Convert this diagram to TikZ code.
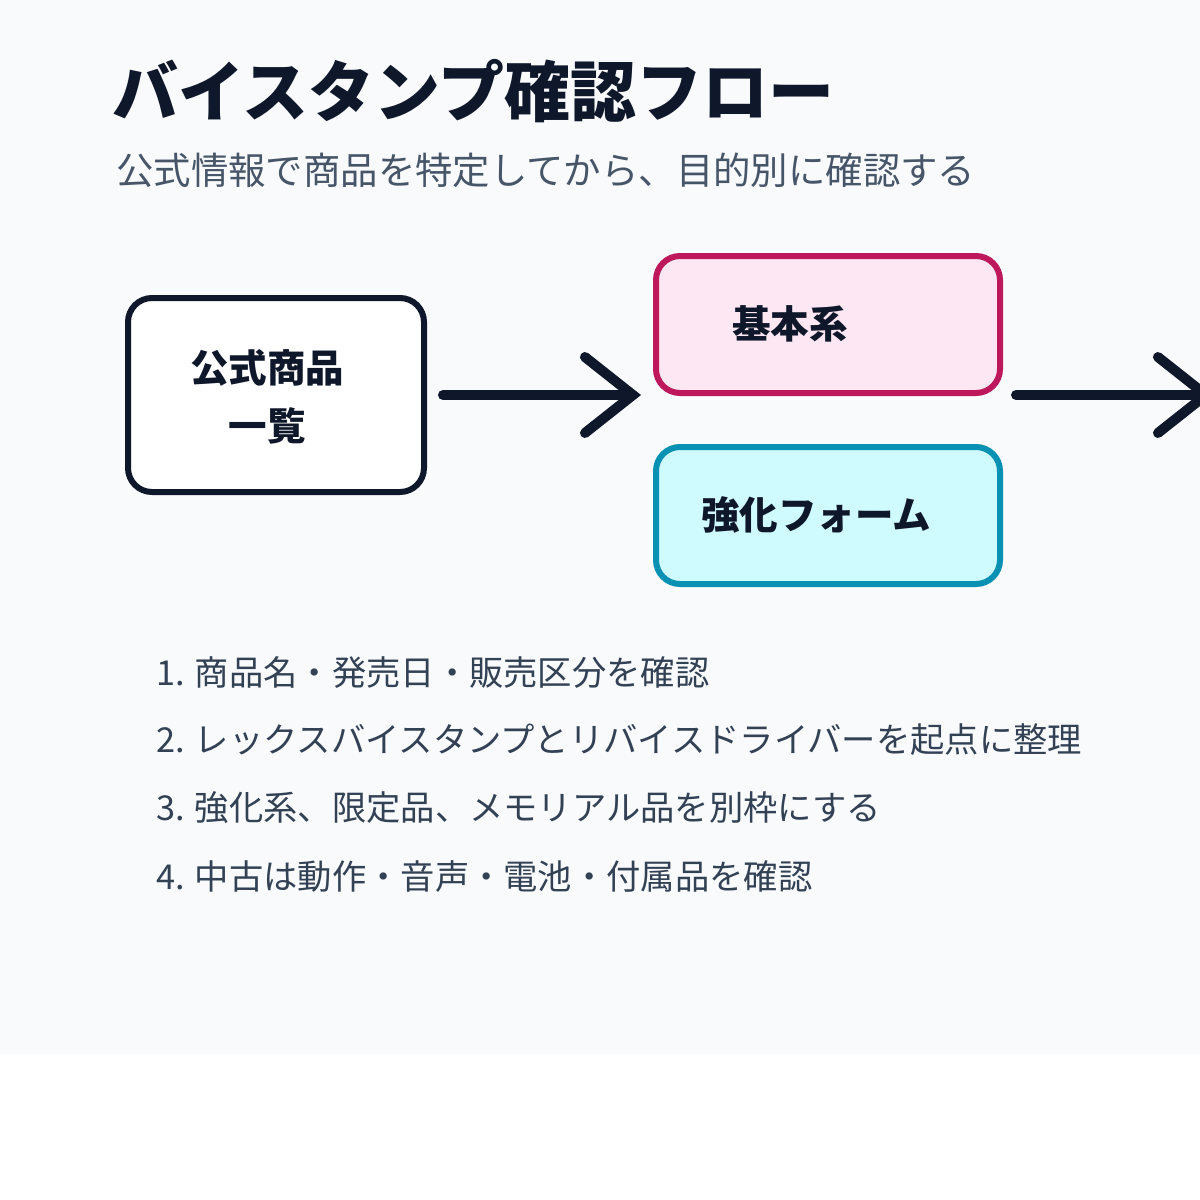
\documentclass[tikz,border=0pt]{standalone}
\usepackage{fontspec}
\setmainfont{Noto Sans CJK JP}
\usetikzlibrary{arrows.meta}
\definecolor{ink}{HTML}{0F172A}
\definecolor{slate}{HTML}{334155}
\definecolor{subgray}{HTML}{475569}
\definecolor{pagebg}{HTML}{F8FAFC}
\definecolor{pinkfill}{HTML}{FCE7F3}
\definecolor{pinkline}{HTML}{BE185D}
\definecolor{cyanfill}{HTML}{CFFAFE}
\definecolor{cyanline}{HTML}{0891B2}
\tikzset{
  card/.style={draw, line width=6pt, rounded corners=24pt, inner sep=0pt},
  boxtext/.style={font=\fontsize{38.5}{58}\selectfont\bfseries, text=ink, align=center, inner sep=0pt},
  flow/.style={draw=ink, line width=10pt, line cap=round, -{Straight Barb[length=48pt,width=76pt,line cap=round]}},
  item/.style={anchor=west, inner sep=0pt, font=\fontsize{34.3}{40}\selectfont, text=slate}
}
\begin{document}
\begin{tikzpicture}[x=1pt,y=-1pt]
\useasboundingbox (0,0) rectangle (1200,1200);
\fill[white] (0,0) rectangle (1200,1200);
\fill[pagebg] (0,0) rectangle (1200,1054);
% heading
\node[anchor=west, inner sep=0pt, font=\fontsize{66}{72}\selectfont\bfseries, text=ink] (title) at (112,91) {バイスタンプ確認フロー};
\node[anchor=west, inner sep=0pt, font=\fontsize{37.4}{42}\selectfont, text=subgray] (subtitle) at (116,170) {公式情報で商品を特定してから、目的別に確認する};
% boxes
\node[card, draw=ink, fill=white, minimum width=296pt, minimum height=194pt] (list) at (276,395) {};
  \node[boxtext] (listtxt) at (267,397) {公式商品\\一覧};
\node[card, draw=pinkline, fill=pinkfill, minimum width=344pt, minimum height=137pt] (basic) at (828,324.5) {};
  \node[boxtext] (basictxt) at (790,324) {基本系};
\node[card, draw=cyanline, fill=cyanfill, minimum width=344pt, minimum height=137pt] (boost) at (828,515.5) {};
  \node[boxtext] (boosttxt) at (816,515) {強化フォーム};
% arrows
\coordinate (next) at (1214,395);
\draw[flow] ([xshift=16pt]list.east) -- ([xshift=-12pt]list.east -| basic.west);
\draw[flow] ([xshift=13pt]basic.east |- list.east) -- (next);
% steps
\node[item] (step1) at (156,672) {1. 商品名・発売日・販売区分を確認};
\node[item] (step2) at (156,740) {2. レックスバイスタンプとリバイスドライバーを起点に整理};
\node[item] (step3) at (156,808) {3. 強化系、限定品、メモリアル品を別枠にする};
\node[item] (step4) at (156,877) {4. 中古は動作・音声・電池・付属品を確認};
\end{tikzpicture}
\end{document}
